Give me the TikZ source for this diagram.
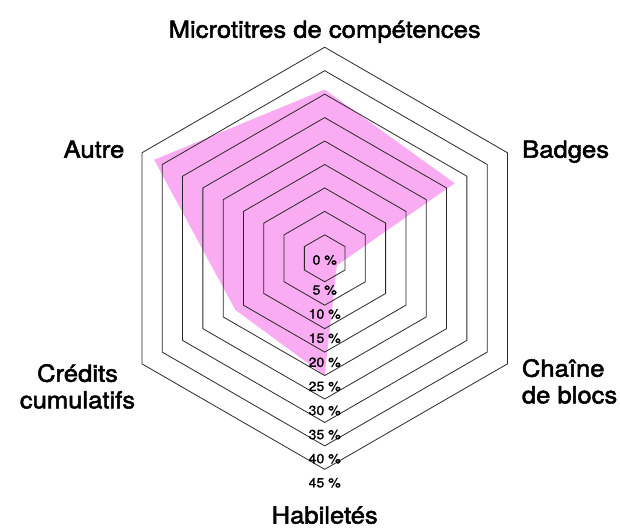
\documentclass[tikz,border=0pt]{standalone}
\usepackage{fontspec}
\setmainfont{TeX Gyre Heros}
\newfontfamily\labelfont{TeX Gyre Heros}[FakeStretch=1.09,FakeBold=2.2]
\newfontfamily\tickfont{TeX Gyre Heros}[FakeStretch=1.06,FakeBold=1.0]
\definecolor{radarpink}{RGB}{250,172,242}
\definecolor{gridline}{RGB}{40,40,40}
\begin{document}
\begin{tikzpicture}[x=1pt,y=1pt,
  ring/.style={draw=gridline, line width=0.8pt, line join=miter},
  datafill/.style={fill=radarpink, draw=none},
  axislabel/.style={font=\labelfont\fontsize{23.5}{26.6}\selectfont, inner sep=0pt},
  ticklabel/.style={font=\tickfont\fontsize{13.3}{15}\selectfont, inner sep=0pt, anchor=center}]
\useasboundingbox (0,0) rectangle (620,530);
\coordinate (C) at (324.7,271.7);
% data polygon
\begin{scope}[shift={(C)}]
  \fill[datafill] (90:168.8) -- (30:150.1) -- (-30:14.1) -- (-90:117.3)
        -- (-150:103.2) -- (150:197.0) -- cycle;
  % rings
  \foreach \k [evaluate=\k as \r using \k*23.45] in {1,...,9}
    \draw[ring] (90:\r) -- (30:\r) -- (-30:\r) -- (-90:\r) -- (-150:\r) -- (150:\r) -- cycle;
\end{scope}
% tick labels
\node[ticklabel] (t0) at (324.7,270) {0 \%};
\foreach \k [evaluate=\k as \v using int(5*\k), evaluate=\k as \yy using 530-(290+24.1*(\k-1))] in {1,...,9}
  \node[ticklabel] (t\v) at (324.7,\yy) {\v{} \%};
% axis labels
\node[axislabel, anchor=base] (microtitres) at (324.7,492.3) {Microtitres de compétences};
\node[axislabel, anchor=base west] (badges) at (522,372.3) {Badges};
\node[axislabel, anchor=base east] (autre) at (124.5,372.3) {Autre};
\node[axislabel, anchor=base west, align=left] (chaine) at (521.7,126.7) {Chaîne\\de blocs};
\node[axislabel, anchor=base, align=center] (credits) at (77.5,121.7) {Crédits\\cumulatifs};
\node[axislabel, anchor=base] (habiletes) at (324.7,6.5) {Habiletés};
\end{tikzpicture}
\end{document}
